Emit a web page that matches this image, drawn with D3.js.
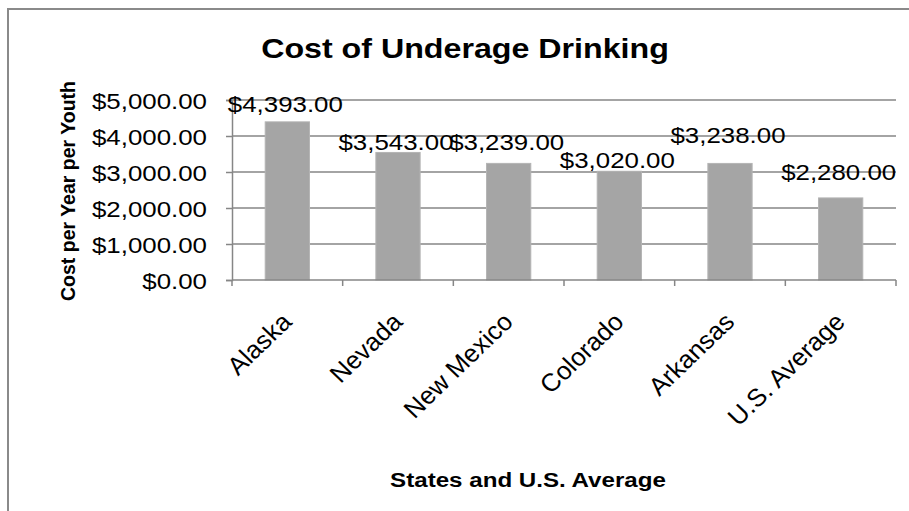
<!DOCTYPE html>
<html>
<head>
<meta charset="utf-8">
<script src="https://cdn.jsdelivr.net/npm/d3@7/dist/d3.min.js"></script>
<style>
  html, body { margin: 0; padding: 0; background: #fff; }
  svg { display: block; font-family: "Liberation Sans", Arial, sans-serif; }
</style>
</head>
<body>
<svg id="chart" width="909" height="511"></svg>
<script>
// Cost per year per youth, by state
const categories = ["Alaska", "Nevada", "New Mexico", "Colorado", "Arkansas", "U.S. Average"];
const costs = [4393, 3543, 3239, 3020, 3238, 2280];
const yTicks = [0, 1000, 2000, 3000, 4000, 5000];
const titleText = "Cost of Underage Drinking";
const yTitleText = "Cost per Year per Youth";
const xTitleText = "States and U.S. Average";

// how far each value label sits above its bar (px)
const labelLift = [10, 2.5, 13, 3, 20, 18];

const W = 909, H = 511;
const plot = { left: 232, right: 896, top: 100, bottom: 280 };
const SX = 1.15;               // horizontal widening of text
const gridColor = "#868686";
const barColor = "#a5a5a5";
const money = d3.format("$,.2f");

const svg = d3.select("#chart");

// outer chart frame (runs off the right and bottom edges)
svg.append("rect")
  .attr("x", 8).attr("y", 9)
  .attr("width", W + 20).attr("height", H + 20)
  .attr("fill", "#fff")
  .attr("stroke", "#8a8a8a").attr("stroke-width", 2);

const x = d3.scaleBand()
  .domain(categories)
  .range([plot.left, plot.right])
  .paddingInner(0.6)
  .paddingOuter(0.3);

const slot = d3.scaleBand()
  .domain(categories)
  .range([plot.left, plot.right])
  .padding(0);

const y = d3.scaleLinear()
  .domain([0, 5000])
  .range([plot.bottom, plot.top]);

// horizontal gridlines
svg.append("g")
  .selectAll("line")
  .data(yTicks.filter(v => v > 0))
  .join("line")
  .attr("x1", plot.left).attr("x2", plot.right)
  .attr("y1", d => y(d)).attr("y2", d => y(d))
  .attr("stroke", gridColor).attr("stroke-width", 1.5);

// y axis
const yAxis = svg.append("g")
  .attr("transform", `translate(${plot.left},0)`)
  .call(d3.axisLeft(y).tickValues(yTicks).tickFormat(money).tickSize(6).tickPadding(0));
yAxis.select(".domain").attr("stroke", gridColor).attr("stroke-width", 1.5);
yAxis.selectAll(".tick line").attr("stroke", gridColor).attr("stroke-width", 1.5);
yAxis.selectAll(".tick text")
  .attr("x", null).attr("dy", null)
  .attr("transform", `translate(-25,8) scale(${SX},1)`)
  .attr("text-anchor", "end")
  .attr("fill", "#000")
  .style("font-size", "22.5px")
  .style("font-family", '"Liberation Sans", Arial, sans-serif');

// bars
svg.append("g")
  .selectAll("rect")
  .data(costs)
  .join("rect")
  .attr("x", (d, i) => x(categories[i]))
  .attr("width", x.bandwidth())
  .attr("y", d => y(d))
  .attr("height", d => y(0) - y(d))
  .attr("fill", barColor)
  .attr("stroke", "#b4b4b4")
  .attr("stroke-width", 1);

// x axis line and tick marks at slot boundaries
const xAxisG = svg.append("g");
xAxisG.append("line")
  .attr("x1", plot.left).attr("x2", plot.right)
  .attr("y1", y(0)).attr("y2", y(0))
  .attr("stroke", gridColor).attr("stroke-width", 1.5);
xAxisG.selectAll("line.tick")
  .data(d3.range(categories.length + 1))
  .join("line")
  .attr("class", "tick")
  .attr("x1", i => plot.left + i * slot.step())
  .attr("x2", i => plot.left + i * slot.step())
  .attr("y1", y(0)).attr("y2", y(0) + 6)
  .attr("stroke", gridColor).attr("stroke-width", 1.5);

// category labels, rotated
xAxisG.selectAll("text")
  .data(categories)
  .join("text")
  .attr("transform", d => `translate(${slot(d) + slot.bandwidth() / 2 - 7},${y(0) + 31}) scale(1.04,1) rotate(-45)`)
  .attr("text-anchor", "end")
  .attr("dy", "0.7em")
  .style("font-size", "25px")
  .attr("fill", "#000")
  .text(d => d);

// value labels above bars
svg.append("g")
  .selectAll("text")
  .data(costs)
  .join("text")
  .attr("transform", (d, i) =>
    `translate(${x(categories[i]) + x.bandwidth() / 2 - 2},${y(d) - labelLift[i]}) scale(${SX},1)`)
  .attr("text-anchor", "middle")
  .style("font-size", "22.5px")
  .attr("fill", "#000")
  .text(d => money(d));

// chart title
svg.append("text")
  .attr("transform", `translate(465,58) scale(${SX},1)`)
  .attr("text-anchor", "middle")
  .style("font-size", "28px")
  .style("font-weight", "bold")
  .text(titleText);

// y axis title
svg.append("text")
  .attr("transform", "translate(75,191) rotate(-90)")
  .attr("text-anchor", "middle")
  .style("font-size", "19.5px")
  .style("font-weight", "bold")
  .text(yTitleText);

// x axis title
svg.append("text")
  .attr("transform", `translate(528,487) scale(${SX},1)`)
  .attr("text-anchor", "middle")
  .style("font-size", "21px")
  .style("font-weight", "bold")
  .text(xTitleText);
</script>
</body>
</html>
